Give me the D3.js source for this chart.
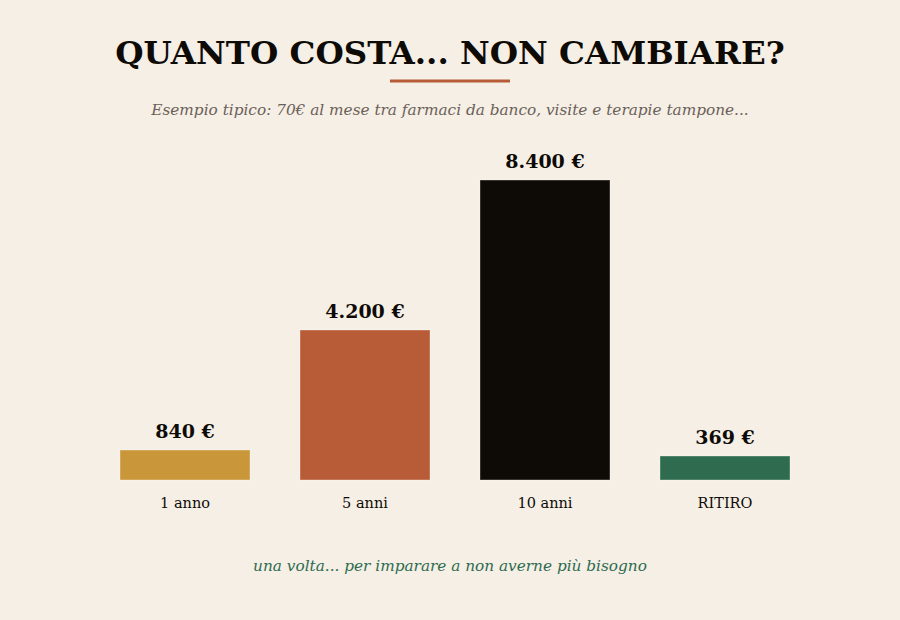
<!DOCTYPE html>
<html>
<head>
<meta charset="utf-8">
<script src="https://cdn.jsdelivr.net/npm/d3@7"></script>
<style>
    html, body { margin: 0; padding: 0; background: #f5efe6; }
    svg { display: block; }
</style>
</head>
<body>
<div id="chart"></div>
<script>
    'use strict';

    var categories = ['1 anno', '5 anni', '10 anni', 'RITIRO'];
    var values = [840, 4200, 8400, 369];
    var valueLabels = ['840 €', '4.200 €', '8.400 €', '369 €'];
    var colors = ['#c9963a', '#b85c38', '#0e0b07', '#2e6b4f'];

    var TITLE = 'QUANTO COSTA... NON CAMBIARE?';
    var SUBTITLE = 'Esempio tipico: 70€ al mese tra farmaci da banco, visite e terapie tampone...';
    var FOOTER = 'una volta... per imparare a non averne più bisogno';

    var WIDTH = 900;
    var HEIGHT = 620;
    var SERIF = "Georgia, 'DejaVu Serif', serif";
    var MIN_BAR = 24;

    var svg = d3.select('#chart').append('svg')
        .attr('width', WIDTH)
        .attr('height', HEIGHT);

    svg.append('rect')
        .attr('width', WIDTH)
        .attr('height', HEIGHT)
        .attr('fill', '#f5efe6');

    // titles
    svg.append('text')
        .attr('x', 450)
        .attr('y', 64)
        .attr('text-anchor', 'middle')
        .attr('font-family', SERIF)
        .attr('font-weight', 'bold')
        .attr('font-size', 32.5)
        .attr('fill', '#0e0b07')
        .text(TITLE);

    svg.append('line')
        .attr('x1', 390)
        .attr('x2', 510)
        .attr('y1', 81)
        .attr('y2', 81)
        .attr('stroke', '#b85c38')
        .attr('stroke-width', 3);

    svg.append('text')
        .attr('x', 450)
        .attr('y', 115)
        .attr('text-anchor', 'middle')
        .attr('font-family', SERIF)
        .attr('font-style', 'italic')
        .attr('font-size', 15.3)
        .attr('fill', '#6b6058')
        .text(SUBTITLE);

    // scales
    var x = d3.scaleBand()
        .domain(categories)
        .range([95, 815])
        .paddingInner(50 / 180)
        .paddingOuter(25 / 180);

    var y = d3.scaleLinear()
        .domain([0, d3.max(values)])
        .range([480, 180]);

    var data = categories.map(function (c, i) {
        return { cat: c, value: values[i], label: valueLabels[i], color: colors[i] };
    });

    function barTop(d) {
        return Math.min(y(d.value), y(0) - MIN_BAR);
    }

    var bars = svg.append('g').attr('class', 'bars');

    bars.selectAll('rect')
        .data(data)
        .enter().append('rect')
        .attr('x', function (d) { return x(d.cat); })
        .attr('y', barTop)
        .attr('width', x.bandwidth())
        .attr('height', function (d) { return y(0) - barTop(d); })
        .attr('fill', function (d) { return d.color; })
        .attr('stroke', 'rgba(255,255,255,0.35)')
        .attr('stroke-width', 1);

    bars.selectAll('text.value')
        .data(data)
        .enter().append('text')
        .attr('class', 'value')
        .attr('x', function (d) { return x(d.cat) + x.bandwidth() / 2; })
        .attr('y', function (d) { return barTop(d) - 12; })
        .attr('text-anchor', 'middle')
        .attr('font-family', SERIF)
        .attr('font-weight', 'bold')
        .attr('font-size', 19)
        .attr('fill', '#0e0b07')
        .text(function (d) { return d.label; });

    var xAxis = svg.append('g')
        .attr('transform', 'translate(0,' + y(0) + ')')
        .call(d3.axisBottom(x).tickSize(0).tickPadding(18));

    xAxis.select('.domain').remove();
    xAxis.selectAll('text')
        .attr('font-family', SERIF)
        .attr('font-size', 14.5)
        .attr('fill', '#0e0b07');

    svg.append('text')
        .attr('x', 450)
        .attr('y', 571)
        .attr('text-anchor', 'middle')
        .attr('font-family', SERIF)
        .attr('font-style', 'italic')
        .attr('font-size', 15.3)
        .attr('fill', '#2e6b4f')
        .text(FOOTER);
</script>
</body>
</html>
